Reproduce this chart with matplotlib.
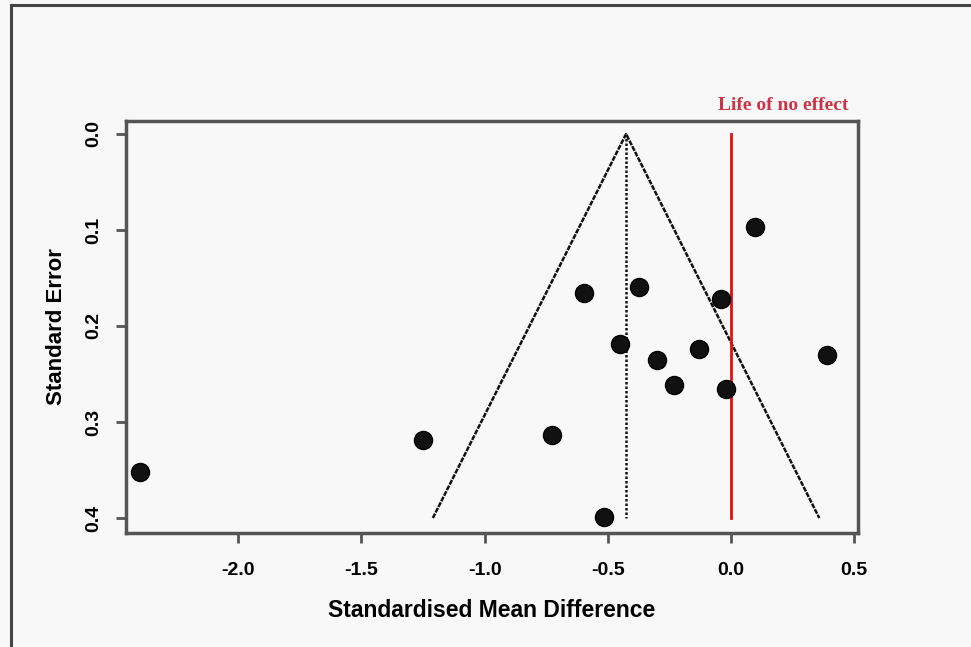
import matplotlib
matplotlib.use("Agg")
import matplotlib.pyplot as plt
from matplotlib.lines import Line2D

# Data: standardised mean difference vs standard error
smd = [0.097, -0.597, -0.373, -0.041, -0.450, -0.300, -0.130, -0.231,
       -0.020, 0.390, -1.250, -0.726, -2.400, -0.515]
se = [0.097, 0.166, 0.159, 0.172, 0.219, 0.235, 0.224, 0.261,
      0.266, 0.230, 0.319, 0.314, 0.352, 0.399]
pooled = -0.426
se_max = 0.4
z = 1.96
x_ticks = [-2.0, -1.5, -1.0, -0.5, 0.0, 0.5]
y_ticks = [0.0, 0.1, 0.2, 0.3, 0.4]

plt.rcParams['font.family'] = ['Liberation Sans', 'DejaVu Sans']

bg = '#f8f8f8'
fig = plt.figure(figsize=(9.71, 6.47), dpi=100, facecolor=bg)
ax = fig.add_axes([0.1298, 0.1762, 0.7538, 0.6368])
ax.set_facecolor(bg)

# funnel
ax.plot([pooled - z * se_max, pooled, pooled + z * se_max], [se_max, 0, se_max],
        color='#111111', lw=1.8, ls=(0, (2, 0.5)))
ax.plot([pooled, pooled], [0, se_max], color='#111111', lw=1.8, ls=(0, (1, 0.8)))
# line of no effect
ax.plot([0, 0], [0, se_max], color='#dd1111', lw=2)

ax.plot(smd, se, 'o', color='#111111', markersize=13, markeredgecolor='#000000')

ax.set_xlim(-2.455, 0.515)
ax.set_ylim(0.4156, -0.0135)
ax.set_xticks(x_ticks)
ax.set_xticklabels([f"{v:.1f}" for v in x_ticks], fontsize=14, fontweight='bold')
ax.set_yticks(y_ticks)
ax.set_yticklabels([f"{v:.1f}" for v in y_ticks], fontsize=14, fontweight='bold',
                   rotation=90, va='center')

for s in ax.spines.values():
    s.set_color('#555555')
    s.set_linewidth(2.5)
ax.tick_params(direction='out', length=7, width=2, color='#555555')
ax.tick_params(axis='x', pad=14)
ax.tick_params(axis='y', pad=10)

ax.set_xlabel('Standardised Mean Difference', fontsize=16.5, fontweight='bold', labelpad=14)
ax.set_ylabel('Standard Error', fontsize=16, fontweight='bold', labelpad=13)

ax.text(-0.053, -0.030, 'Life of no effect', color='#cc3344', fontsize=14,
        fontweight='bold', family=['Liberation Serif', 'DejaVu Serif'],
        ha='left', va='center', transform=ax.transData, clip_on=False)

# figure frame lines (top and left)
fig.add_artist(Line2D([11 / 971, 1.0], [1 - 5 / 647, 1 - 5 / 647], color='#444444', lw=2.2,
                      transform=fig.transFigure))
fig.add_artist(Line2D([11 / 971, 11 / 971], [0, 1 - 5 / 647], color='#444444', lw=2.2,
                      transform=fig.transFigure))

fig.savefig('out.png', dpi=100, facecolor=bg)
